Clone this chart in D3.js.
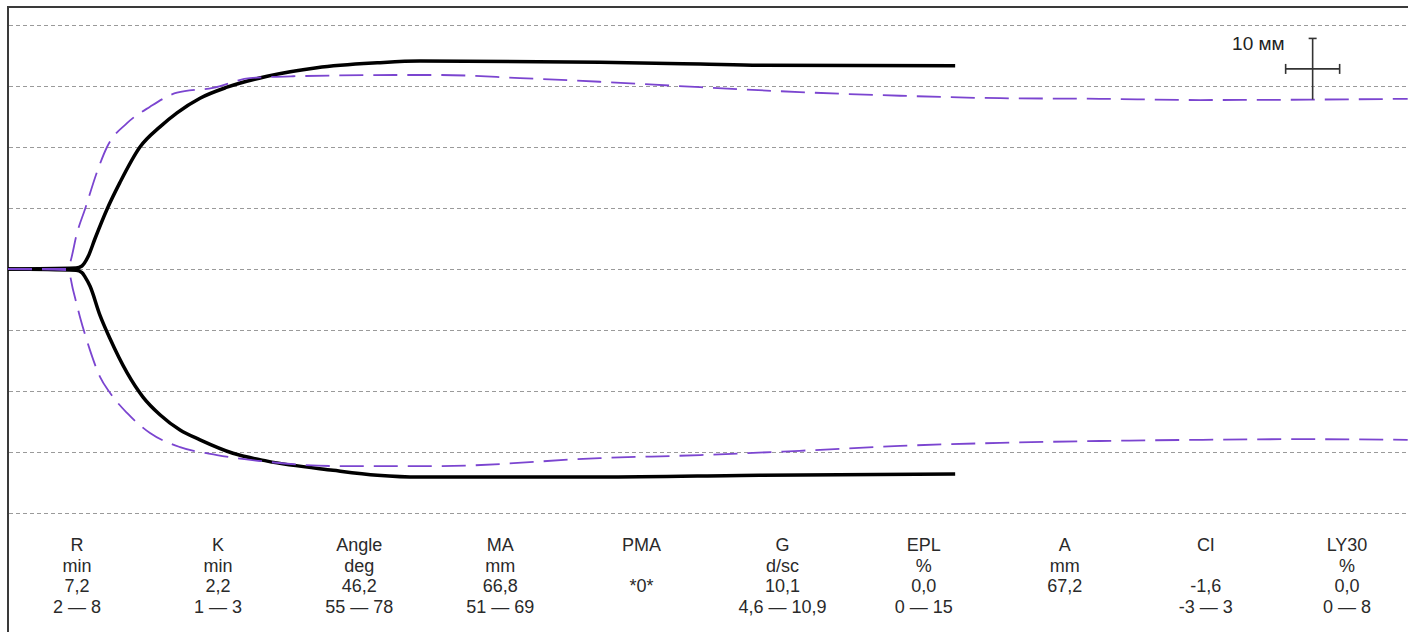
<!DOCTYPE html>
<html>
<head>
<meta charset="utf-8">
<script src="https://cdn.jsdelivr.net/npm/d3@7"></script>
<style>
  html, body { margin: 0; padding: 0; background: #fff; }
  svg { display: block; }
</style>
</head>
<body>
<div id="chart"></div>
<script>
// TEG trace: half-amplitude in mm vs time in minutes

// patient trace (black, solid)
const blackTime  = [0, 6.3, 6.85, 7.05, 7.41, 8.06, 9.17, 10.37, 12.22, 14.07, 15.65, 17.78, 20.28, 24.0, 28.6, 34.2, 38.1, 54.8, 64.1, 69.6, 87.7];
const blackUpper = [0, 0.16, 0.5, 0.9, 2.0, 5.0, 9.8, 14.2, 20.0, 23.3, 25.6, 28.0, 29.8, 31.6, 33.0, 33.8, 34.1, 33.9, 33.6, 33.4, 33.3];
const blackLowTime = [0, 6.3, 6.85, 7.13, 7.59, 8.52, 9.44, 11.02, 12.5, 14.07, 15.93, 17.78, 20.83, 24.0, 30.1, 34.2, 38.1, 54.8, 69.6, 87.7];
const blackLower   = [0, -0.2, -0.6, -1.3, -2.8, -7.6, -11.4, -17.0, -21.0, -23.9, -26.4, -28.0, -30.2, -31.5, -33.0, -33.8, -34.1, -34.1, -33.8, -33.6];

// reference trace (purple, dashed)
const refTime  = [0, 5.46, 5.74, 6.39, 7.13, 8.24, 9.17, 11.02, 13.15, 15.65, 18.98, 22.4, 26.4, 36.3, 40.0, 47.4, 54.8, 64.1, 73.3, 82.6, 91.9, 101.1, 110.4, 129.6];
const refUpper = [0, 0, 1.0, 5.9, 9.8, 15.9, 20.0, 23.9, 26.6, 28.9, 29.7, 31.3, 31.6, 31.8, 31.8, 31.3, 30.7, 29.8, 29.0, 28.4, 28.0, 27.9, 27.7, 27.9];
const refLowTime = [0, 5.56, 6.02, 6.67, 7.59, 8.52, 9.44, 11.02, 13.15, 15.93, 19.35, 24.0, 30.1, 36.3, 40.0, 54.8, 64.1, 73.3, 82.6, 91.9, 101.1, 110.4, 119.6, 129.6];
const refLower   = [0, -0.2, -3.4, -7.9, -13.3, -17.7, -20.3, -23.6, -26.9, -29.2, -30.5, -31.6, -32.3, -32.3, -32.3, -31.0, -30.5, -29.8, -29.0, -28.5, -28.2, -28.0, -27.9, -28.0];

// grid lines every 10 mm
const gridMm = [-40, -30, -20, -10, 0, 10, 20, 30, 40];

// parameter table under the trace
const params = ["R", "K", "Angle", "MA", "PMA", "G", "EPL", "A", "CI", "LY30"];
const units  = ["min", "min", "deg", "mm", "", "d/sc", "%", "mm", "", "%"];
const values = ["7,2", "2,2", "46,2", "66,8", "*0*", "10,1", "0,0", "67,2", "-1,6", "0,0"];
const ranges = ["2 — 8", "1 — 3", "55 — 78", "51 — 69", "", "4,6 — 10,9", "0 — 15", "", "-3 — 3", "0 — 8"];

const width = 1408, height = 632;

const svg = d3.select("#chart").append("svg")
  .attr("width", width)
  .attr("height", height)
  .style("font-family", "'Liberation Sans', Arial, sans-serif");

svg.append("rect").attr("width", width).attr("height", height).attr("fill", "#fff");

// scales: ~10.8 px per minute, 6.1 px per mm
const x = d3.scaleLinear().domain([0, 130]).range([8, 1412]);
const y = d3.scaleLinear().domain([-40, 40]).range([513, 25]);

// dashed grid
svg.append("g")
  .selectAll("line")
  .data(gridMm)
  .join("line")
  .attr("x1", 9).attr("x2", width)
  .attr("y1", d => Math.round(y(d)) + 0.5)
  .attr("y2", d => Math.round(y(d)) + 0.5)
  .attr("stroke", "#9a9a9a")
  .attr("stroke-width", 1)
  .attr("stroke-dasharray", "4,3");

// frame (left + top)
svg.append("path")
  .attr("d", `M8,${height} L8,7 L${width},7`)
  .attr("fill", "none")
  .attr("stroke", "#3a3a3a")
  .attr("stroke-width", 2);

const line = d3.line()
  .x(d => x(d[0]))
  .y(d => y(d[1]))
  .curve(d3.curveMonotoneX);

const zip = (a, b) => a.map((v, i) => [v, b[i]]);

// patient trace
[zip(blackTime, blackUpper), zip(blackLowTime, blackLower)].forEach(pts => {
  svg.append("path")
    .attr("d", line(pts))
    .attr("fill", "none")
    .attr("stroke", "#000")
    .attr("stroke-width", 3.5)
    .attr("stroke-linecap", "butt");
});

// reference trace
[zip(refTime, refUpper), zip(refLowTime, refLower)].forEach(pts => {
  svg.append("path")
    .attr("d", line(pts))
    .attr("fill", "none")
    .attr("stroke", "#7b45d0")
    .attr("stroke-width", 1.8)
    .attr("stroke-dasharray", "24,10");
});

// scale cross: 10 mm vertical, 5 min (10 mm paper) horizontal
const crossT = 120.8, crossMm = 32.8;
const cross = svg.append("g").attr("stroke", "#333").attr("stroke-width", 1.6).attr("fill", "none");
const cx = x(crossT), cy = y(crossMm);
const vTop = y(crossMm + 5), vBot = y(crossMm - 5);
const hL = x(crossT - 2.5), hR = x(crossT + 2.5);
cross.append("line").attr("x1", cx).attr("x2", cx).attr("y1", vTop).attr("y2", vBot);
cross.append("line").attr("x1", cx - 4).attr("x2", cx + 4).attr("y1", vTop).attr("y2", vTop);
cross.append("line").attr("x1", hL).attr("x2", hR).attr("y1", cy).attr("y2", cy);
cross.append("line").attr("x1", hL).attr("x2", hL).attr("y1", cy - 5).attr("y2", cy + 5);
cross.append("line").attr("x1", hR).attr("x2", hR).attr("y1", cy - 5).attr("y2", cy + 5);

svg.append("text")
  .attr("x", hL - 1)
  .attr("y", 50)
  .attr("text-anchor", "end")
  .attr("fill", "#222")
  .style("font-size", "19px")
  .text("10 мм");

// parameter columns
const col = d3.scalePoint().domain(params).range([77, 1347]);
const rows = [params, units, values, ranges];
const rowY = [551, 571.5, 592, 612.5];

const table = svg.append("g")
  .attr("fill", "#2a2a2a")
  .attr("text-anchor", "middle")
  .style("font-size", "18px");

params.forEach((p, i) => {
  rows.forEach((r, j) => {
    if (!r[i]) return;
    table.append("text")
      .attr("x", col(p))
      .attr("y", rowY[j])
      .text(r[i]);
  });
});
</script>
</body>
</html>
